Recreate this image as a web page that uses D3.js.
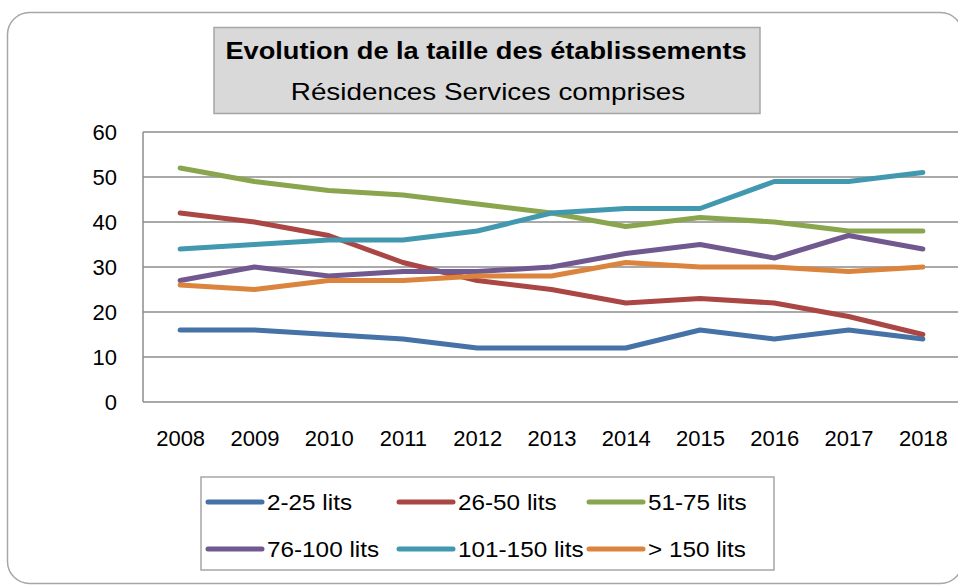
<!DOCTYPE html>
<html>
<head>
<meta charset="utf-8">
<script src="https://cdn.jsdelivr.net/npm/d3@7"></script>
<style>
  body { margin: 0; background: #fff; }
  svg { display: block; font-family: "Liberation Sans", Arial, sans-serif; }
</style>
</head>
<body>
<svg width="958" height="586"></svg>
<script>
const years = ['2008', '2009', '2010', '2011', '2012', '2013', '2014', '2015', '2016', '2017', '2018'];
const seriesNames = ['2-25 lits', '26-50 lits', '51-75 lits', '76-100 lits', '101-150 lits', '> 150 lits'];
const seriesColors = ['#4572A7', '#AA4643', '#89A54E', '#71588F', '#4198AF', '#DB843D'];

const lits2to25 = [16, 16, 15, 14, 12, 12, 12, 16, 14, 16, 14];
const lits26to50 = [42, 40, 37, 31, 27, 25, 22, 23, 22, 19, 15];
const lits51to75 = [52, 49, 47, 46, 44, 42, 39, 41, 40, 38, 38];
const lits76to100 = [27, 30, 28, 29, 29, 30, 33, 35, 32, 37, 34];
const lits101to150 = [34, 35, 36, 36, 38, 42, 43, 43, 49, 49, 51];
const lits150plus = [26, 25, 27, 27, 28, 28, 31, 30, 30, 29, 30];

const yTicks = [0, 10, 20, 30, 40, 50, 60];

const allSeries = [lits2to25, lits26to50, lits51to75, lits76to100, lits101to150, lits150plus]
    .map((values, i) => ({ name: seriesNames[i], color: seriesColors[i], values: values }));

const svg = d3.select('svg');

// cadre du graphique
svg.append('rect')
    .attr('x', 7.5).attr('y', 12.5)
    .attr('width', 955).attr('height', 571)
    .attr('rx', 22).attr('ry', 22)
    .attr('fill', '#fff')
    .attr('stroke', '#a6a6a6')
    .attr('stroke-width', 1.5);

const plot = { left: 143, right: 960, top: 132, bottom: 402 };

const x = d3.scalePoint()
    .domain(years)
    .range([plot.left, plot.right])
    .padding(0.5);

const y = d3.scaleLinear()
    .domain([0, 60])
    .range([plot.bottom, plot.top]);

// grille horizontale
svg.append('g')
    .selectAll('line')
    .data(yTicks)
    .enter().append('line')
    .attr('x1', plot.left).attr('x2', plot.right)
    .attr('y1', d => y(d)).attr('y2', d => y(d))
    .attr('stroke', '#8c8c8c')
    .attr('stroke-width', 1.5);

// axe vertical
svg.append('line')
    .attr('x1', plot.left).attr('x2', plot.left)
    .attr('y1', plot.top).attr('y2', plot.bottom)
    .attr('stroke', '#8c8c8c')
    .attr('stroke-width', 1.5);

const yAxis = svg.append('g')
    .attr('transform', `translate(${plot.left},0)`)
    .call(d3.axisLeft(y).tickValues(yTicks).tickSize(0).tickPadding(26));
yAxis.select('.domain').remove();
yAxis.selectAll('text')
    .attr('font-size', 22)
    .attr('font-family', '"Liberation Sans", Arial, sans-serif')
    .attr('fill', '#000');

const xAxis = svg.append('g')
    .attr('transform', `translate(0,${plot.bottom})`)
    .call(d3.axisBottom(x).tickSize(0).tickPadding(28));
xAxis.select('.domain').remove();
xAxis.selectAll('text')
    .attr('font-size', 22)
    .attr('font-family', '"Liberation Sans", Arial, sans-serif')
    .attr('fill', '#000');

// courbes
const line = d3.line()
    .x((d, i) => x(years[i]))
    .y(d => y(d));

svg.append('g')
    .selectAll('path')
    .data(allSeries)
    .enter().append('path')
    .attr('d', s => line(s.values))
    .attr('fill', 'none')
    .attr('stroke', s => s.color)
    .attr('stroke-width', 5)
    .attr('stroke-linecap', 'round')
    .attr('stroke-linejoin', 'round');

// titre
svg.append('rect')
    .attr('x', 214).attr('y', 27.5)
    .attr('width', 546).attr('height', 86)
    .attr('fill', '#d9d9d9')
    .attr('stroke', '#a6a6a6')
    .attr('stroke-width', 1.5);

svg.append('text')
    .attr('transform', 'translate(486,59) scale(1.11,1)')
    .attr('text-anchor', 'middle')
    .attr('font-size', 24.5)
    .attr('font-weight', 'bold')
    .text('Evolution de la taille des établissements');

svg.append('text')
    .attr('transform', 'translate(488,100) scale(1.16,1)')
    .attr('text-anchor', 'middle')
    .attr('font-size', 24)
    .text('Résidences Services comprises');

// légende
svg.append('rect')
    .attr('x', 201).attr('y', 477)
    .attr('width', 573).attr('height', 93)
    .attr('fill', '#fff')
    .attr('stroke', '#a6a6a6')
    .attr('stroke-width', 1.5);

const legendCols = [208, 399, 589];
const legendRows = [502, 549];

const legendItems = svg.append('g')
    .selectAll('g')
    .data(allSeries)
    .enter().append('g')
    .attr('transform', (s, i) => `translate(${legendCols[i % 3]},${legendRows[Math.floor(i / 3)]})`);

legendItems.append('line')
    .attr('x1', 0).attr('x2', 54)
    .attr('y1', 0).attr('y2', 0)
    .attr('stroke', s => s.color)
    .attr('stroke-width', 5)
    .attr('stroke-linecap', 'round');

legendItems.append('text')
    .attr('transform', 'translate(59,7.5) scale(1.13,1)')
    .attr('font-size', 21.5)
    .text(s => s.name);
</script>
</body>
</html>
